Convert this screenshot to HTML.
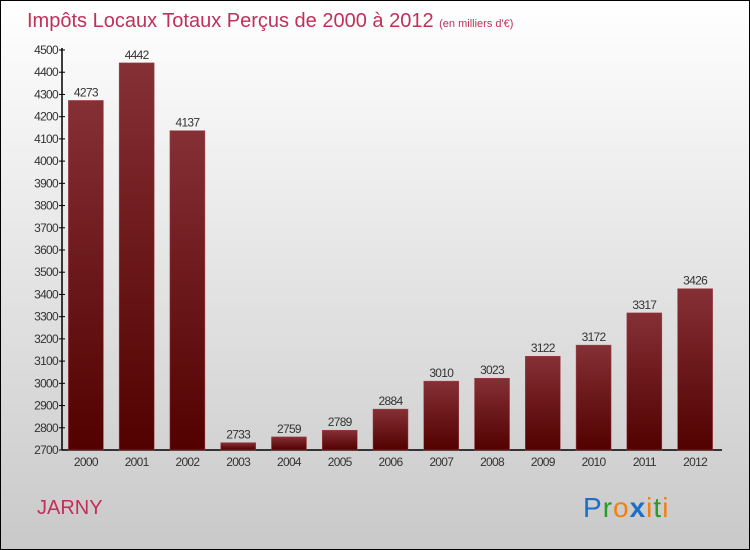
<!DOCTYPE html>
<html><head><meta charset="utf-8"><style>
body{margin:0;}
#wrap{width:750px;height:550px;position:relative;box-sizing:border-box;border:1px solid #000;background:linear-gradient(#ffffff,#c9c9c9);font-family:"Liberation Sans",sans-serif;overflow:hidden}
</style></head><body>
<div id="wrap">
<svg id="chart" width="750" height="550" style="position:absolute;left:-1px;top:-1px">
<defs>
<linearGradient id="bg" x1="0" y1="0" x2="0" y2="1"><stop offset="0" stop-color="#853035"/><stop offset="1" stop-color="#520000"/></linearGradient>
</defs>
<text x="27" y="27" font-size="20" fill="#c0305a">Impôts Locaux Totaux Perçus de 2000 à 2012 <tspan font-size="11">(en milliers d'€)</tspan></text>
<text x="37" y="514" font-size="20" fill="#c0305a">JARNY</text>
<g font-size="28" font-family="Liberation Sans, sans-serif" letter-spacing="1">
<text x="583" y="517"><tspan fill="#1a6fc9">P</tspan><tspan fill="#2a9a2a">r</tspan><tspan fill="#f08010">o</tspan><tspan fill="#1a6fc9" font-weight="bold">x</tspan><tspan fill="#f08010">i</tspan><tspan fill="#2a9a2a">t</tspan><tspan fill="#f08010">i</tspan></text>
</g>
</svg>
</div>
<script>
const categories=["2000","2001","2002","2003","2004","2005","2006","2007","2008","2009","2010","2011","2012"];
const values=[4273,4442,4137,2733,2759,2789,2884,3010,3023,3122,3172,3317,3426];
const yTicks=[2700,2800,2900,3000,3100,3200,3300,3400,3500,3600,3700,3800,3900,4000,4100,4200,4300,4400,4500];
const svg=document.getElementById('chart');const NS='http://www.w3.org/2000/svg';
const X0=62,X1=722,Y0=450,Y1=50,yMin=2700,yMax=4500;
const y=v=>Y0-(v-yMin)/(yMax-yMin)*(Y0-Y1);
const step=(X1-X0)/categories.length;
const xc=i=>X0+step*(i+0.5)-1.5;
function mk(t,a){const e=document.createElementNS(NS,t);for(const k in a)e.setAttribute(k,a[k]);svg.appendChild(e);return e;}
let ax=mk('line',{x1:X0,y1:Y1-2,x2:X0,y2:Y0,stroke:'#000','stroke-width':1.5});


let bx=mk('line',{x1:X0,y1:Y0,x2:X1,y2:Y0,stroke:'#000','stroke-width':1.5});


yTicks.forEach(v=>{
 let l=mk('line',{x1:X0-3,y1:y(v),x2:X0+3,y2:y(v),stroke:'#000'});
 
 
 let t=mk('text',{x:X0-4,y:y(v)+4,'font-size':12,fill:'#333','text-anchor':'end','letter-spacing':'-0.7'});
 t.textContent=v;
 
 
});
values.forEach((v,i)=>{
 const w=35;
 let r=mk('rect',{x:xc(i)-w/2,y:y(v),width:w,height:Y0-y(v),fill:'url(#bg)',stroke:'#a04048','stroke-width':0.5});
 
 
 let t=mk('text',{x:xc(i),y:y(v)-4,'font-size':12,fill:'#333','text-anchor':'middle','letter-spacing':'-0.7'});
 t.textContent=v;
 
 
 let c=mk('text',{x:xc(i),y:Y0+16,'font-size':12,fill:'#333','text-anchor':'middle','letter-spacing':'-0.7'});
 c.textContent=categories[i];
 
 
});
</script>
</body></html>
